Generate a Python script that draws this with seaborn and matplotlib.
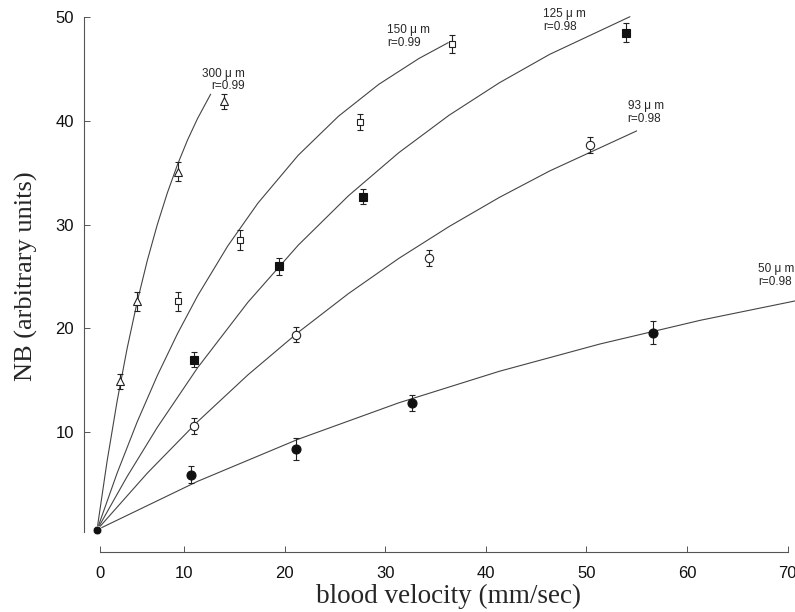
import numpy as np
import pandas as pd
import seaborn as sns
import matplotlib
matplotlib.use("Agg")
import matplotlib.pyplot as plt

# measured points (mean +/- error) for each vessel diameter
tri_x = [3.6, 5.3, 9.4, 14.0]
tri_y = [14.9, 22.6, 35.1, 41.9]
tri_e = [0.72, 0.93, 0.9, 0.7]

sq_x = [9.4, 15.6, 27.5, 36.6]
sq_y = [22.6, 28.5, 39.9, 47.4]
sq_e = [0.93, 0.96, 0.75, 0.84]

fsq_x = [11.0, 19.4, 27.8, 53.9]
fsq_y = [17.0, 26.0, 32.7, 48.5]
fsq_e = [0.74, 0.82, 0.75, 0.92]

oc_x = [11.0, 21.1, 34.3, 50.4]
oc_y = [10.6, 19.4, 26.8, 37.7]
oc_e = [0.77, 0.75, 0.8, 0.77]

fc_x = [10.7, 21.1, 32.7, 56.6]
fc_y = [5.9, 8.4, 12.8, 19.6]
fc_e = [0.8, 1.08, 0.75, 1.1]

orig_x = [1.34]
orig_y = [0.58]

# fitted curves
c300_x = [1.34, 2.34, 3.34, 4.34, 5.34, 6.34, 7.34, 8.34, 9.34, 10.34, 11.34, 12.64]
c300_y = [0.58, 7.17, 12.98, 18.09, 22.58, 26.54, 30.02, 33.08, 35.78, 38.16, 40.24, 42.58]

c150_x = [1.34, 3.34, 5.34, 7.34, 9.34, 11.34, 14.34, 17.34, 21.34, 25.34, 29.34, 33.34, 36.26]
c150_y = [0.58, 6.05, 11.0, 15.46, 19.49, 23.14, 27.95, 32.08, 36.69, 40.45, 43.52, 46.02, 47.55]

c125_x = [1.34, 4.34, 7.34, 11.34, 16.34, 21.34, 26.34, 31.34, 36.34, 41.34, 46.34, 54.32]
c125_y = [0.58, 5.73, 10.47, 16.21, 22.52, 28.02, 32.79, 36.94, 40.55, 43.68, 46.42, 50.05]

c93_x = [1.34, 6.34, 11.34, 16.34, 21.34, 26.34, 31.34, 36.34, 41.34, 46.34, 54.99]
c93_y = [0.58, 6.05, 11.01, 15.52, 19.62, 23.36, 26.75, 29.82, 32.63, 35.18, 39.04]

c50_x = [1.34, 11.34, 21.34, 31.34, 41.34, 51.34, 61.34, 70.73]
c50_y = [0.58, 5.26, 9.32, 12.83, 15.87, 18.50, 20.79, 22.65]

labels = ["300 μ m\nr=0.99", "150 μ m\nr=0.99", "125 μ m\nr=0.98", "93 μ m\nr=0.98", "50 μ m\nr=0.98"]

xtick_vals = [1.6, 10, 20, 30, 40, 50, 60, 70]
xtick_labels = ["0", "10", "20", "30", "40", "50", "60", "70"]
ytick_vals = [10, 20, 30, 40, 50]

sns.set_style("ticks")
plt.rcParams['font.family'] = ['Liberation Sans', 'DejaVu Sans']

fig = plt.figure(figsize=(7.95, 6.12), dpi=100)
ax = fig.add_axes([83.5 / 795, 60 / 612, 711.5 / 795, 552 / 612])

curves = [(c300_x, c300_y), (c150_x, c150_y), (c125_x, c125_y), (c93_x, c93_y), (c50_x, c50_y)]
for cx, cy in curves:
    df = pd.DataFrame({"x": cx, "y": cy})
    sns.lineplot(data=df, x="x", y="y", ax=ax, color="#444444", lw=0.8,
                 sort=False, estimator=None, clip_on=False)

ekw = dict(ls="none", ecolor="#222222", elinewidth=0.8, capsize=2.5, capthick=0.8,
           mew=0.8, zorder=3)
ax.errorbar(tri_x, tri_y, yerr=tri_e, marker="^", ms=6, mfc="white", mec="#222222", **ekw)
ax.errorbar(sq_x, sq_y, yerr=sq_e, marker="s", ms=5, mfc="white", mec="#222222", **ekw)
ax.errorbar(fsq_x, fsq_y, yerr=fsq_e, marker="s", ms=6, mfc="#111111", mec="#111111", **ekw)
ax.errorbar(oc_x, oc_y, yerr=oc_e, marker="o", ms=6, mfc="white", mec="#222222", **ekw)
ax.errorbar(fc_x, fc_y, yerr=fc_e, marker="o", ms=6.5, mfc="#111111", mec="#111111", **ekw)
sns.scatterplot(x=orig_x, y=orig_y, ax=ax, color="#111111", s=40, zorder=4, clip_on=False)

tkw = dict(fontsize=8.5, linespacing=1.05, va="center", clip_on=False)
ax.text(16.05, 43.95, labels[0], ha="right", **tkw)
ax.text(30.2, 48.15, labels[1], ha="left", **tkw)
ax.text(45.7, 49.7, labels[2], ha="left", **tkw)
ax.text(54.1, 40.8, labels[3], ha="left", **tkw)
ax.text(67.1, 25.1, labels[4], ha="left", **tkw)

ax.set_xlim(0, 70.73)
ax.set_ylim(-1.55, 51.66)
sns.despine(ax=ax)
ax.spines['left'].set_bounds(0.4, 50)
ax.spines['bottom'].set_bounds(1.6, 70)
for s in ['left', 'bottom']:
    ax.spines[s].set_linewidth(0.8)
    ax.spines[s].set_color("#555555")

ax.set_xticks(xtick_vals)
ax.set_xticklabels(xtick_labels)
ax.set_yticks(ytick_vals)
ax.tick_params(axis='both', direction='in', length=4.5, width=0.7, color="#555555",
               labelsize=12, colors="#111111")
ax.tick_params(axis='x', pad=10)
ax.tick_params(axis='y', pad=7)

ax.set_xlabel("blood velocity (mm/sec)", family="Liberation Serif", fontsize=19.5)
ax.set_ylabel("NB (arbitrary units)", family="Liberation Serif", fontsize=19, labelpad=12)
ax.xaxis.set_label_coords((448.5 - 83.5) / 711.5, -0.057)

fig.savefig("out.png", dpi=100)
